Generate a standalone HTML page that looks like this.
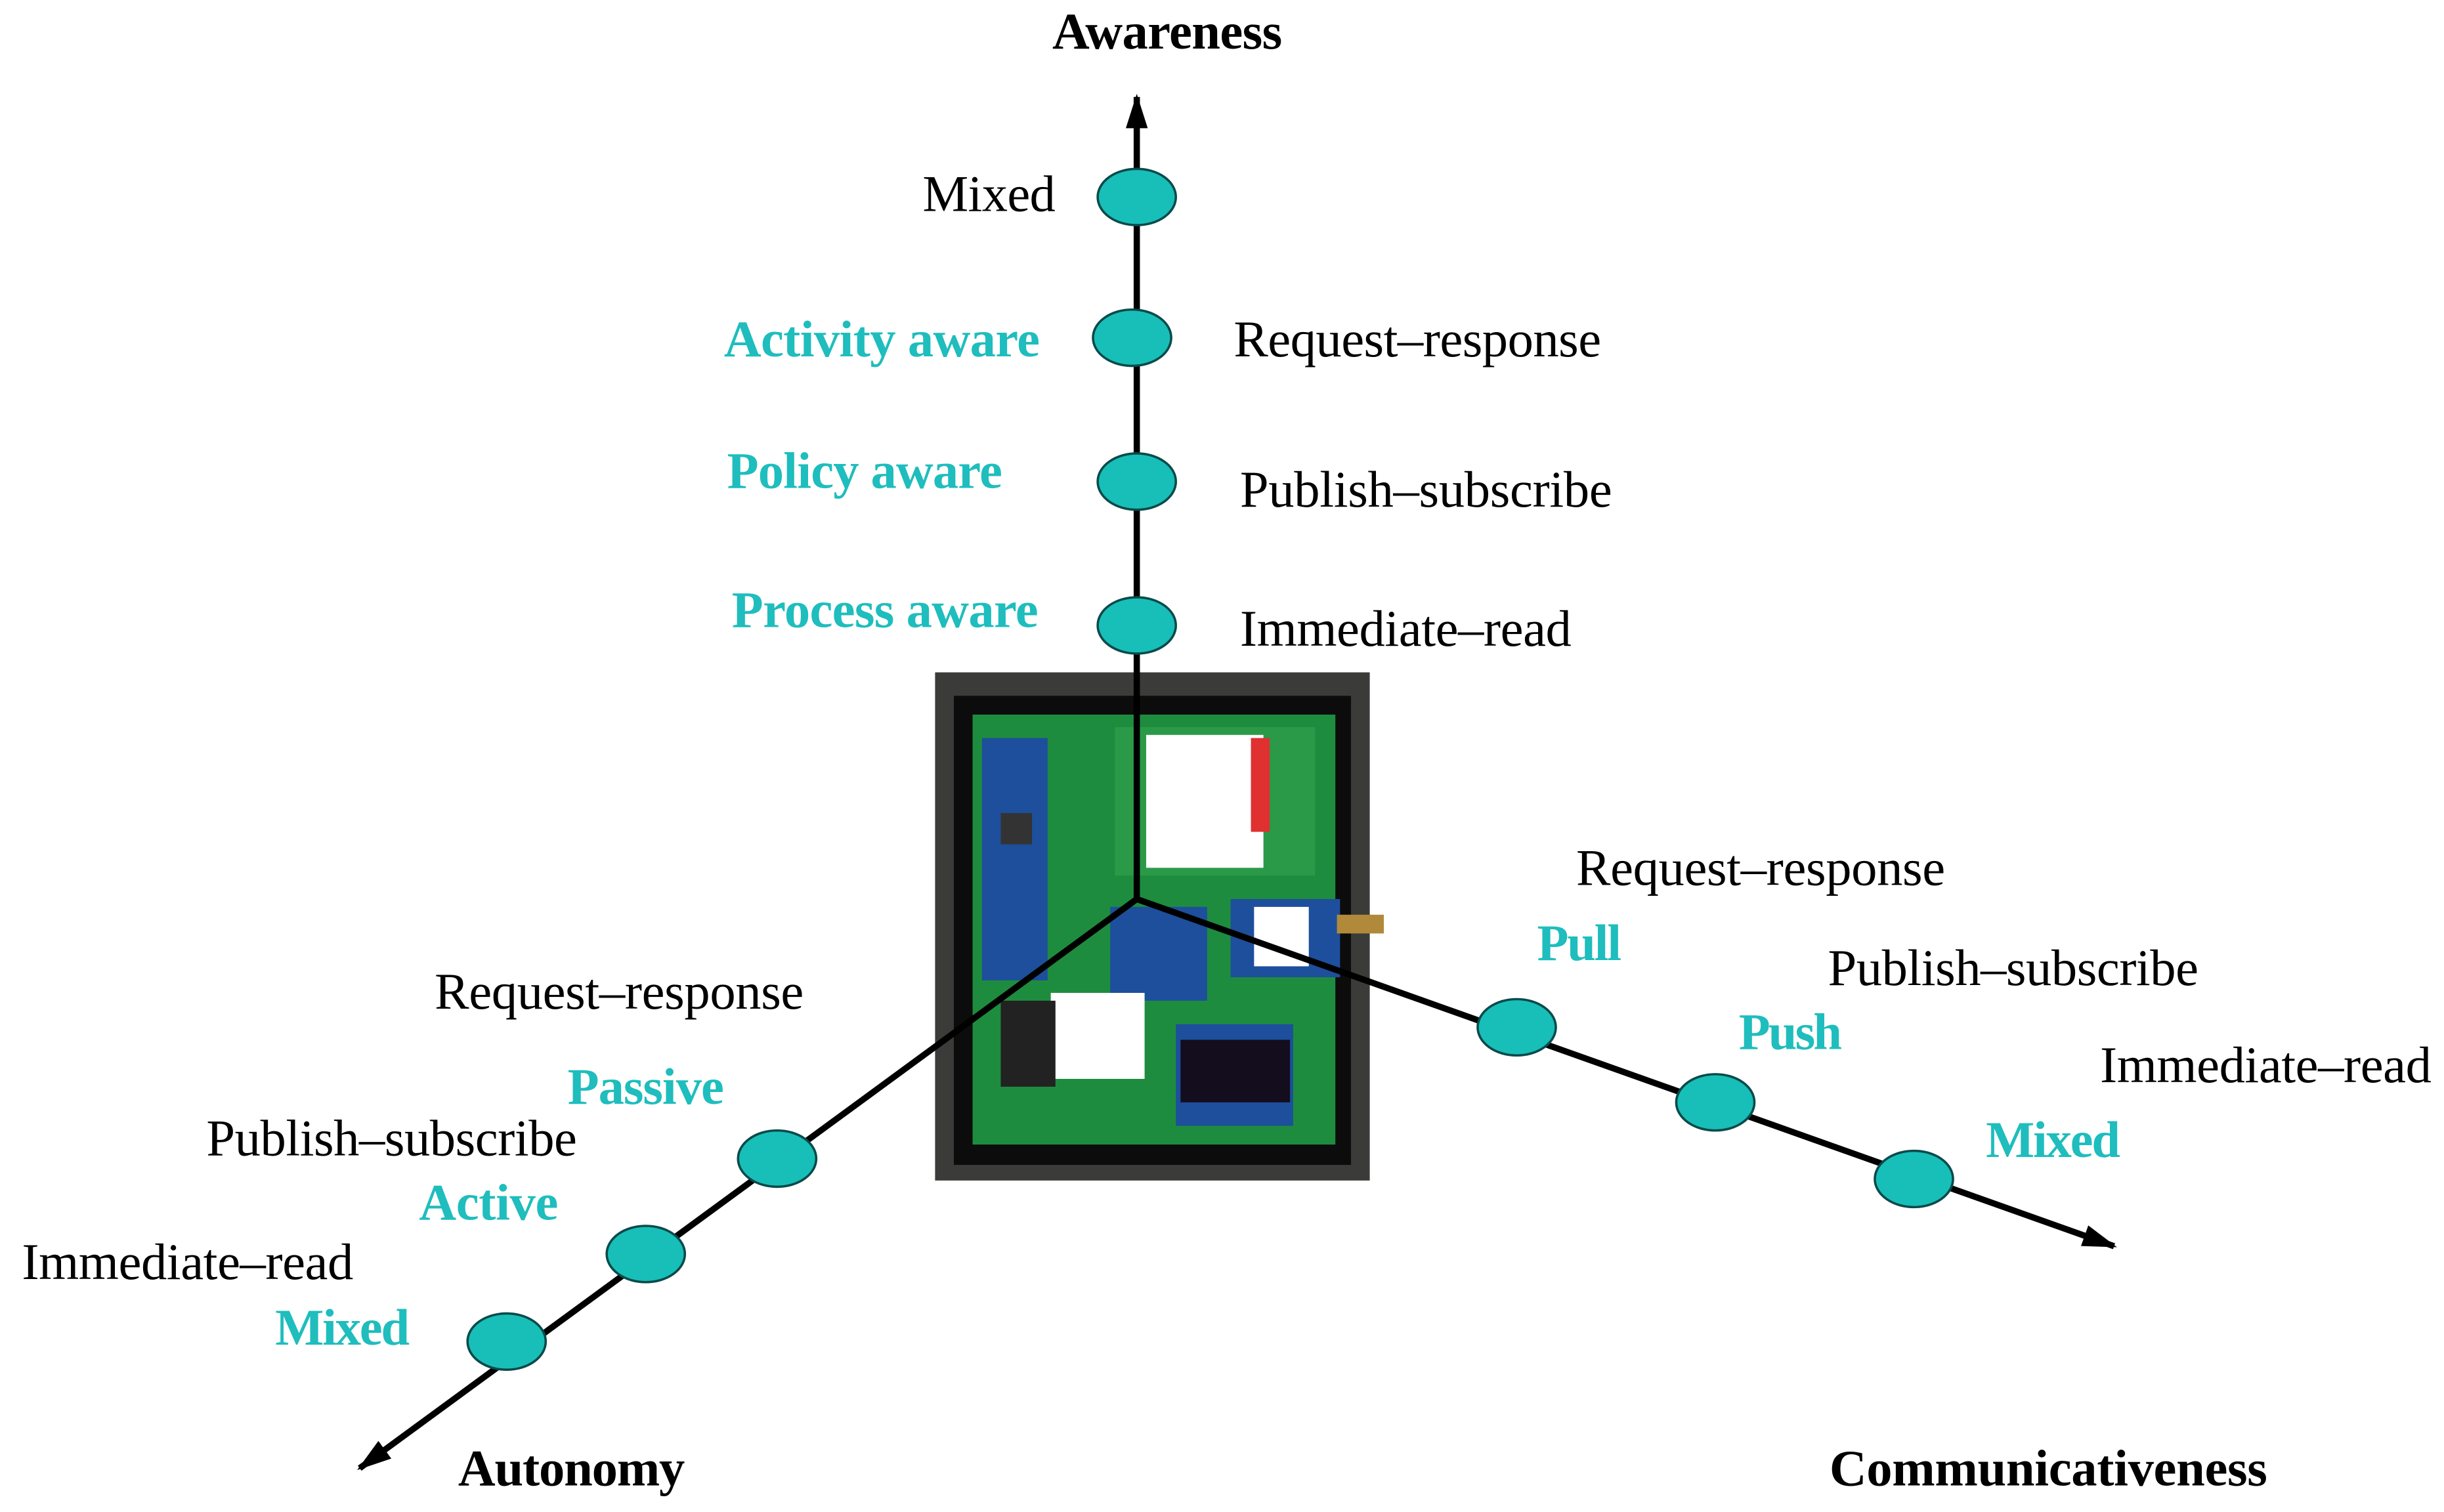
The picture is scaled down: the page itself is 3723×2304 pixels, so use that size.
<!DOCTYPE html>
<html><head><meta charset="utf-8"><style>
html,body{margin:0;padding:0;background:#fff;width:3723px;height:2304px;overflow:hidden}
svg{display:block}
text{font-family:"Liberation Serif",serif;font-size:33px}
.c{fill:#1fbdbd;font-weight:bold}
.b{font-weight:bold;fill:#000}
</style></head><body>
<svg width="3723" height="2304" viewBox="0 0 1563 967" preserveAspectRatio="none">
<defs>
<marker id="ah2" markerWidth="22" markerHeight="14" refX="20" refY="7" orient="auto" markerUnits="userSpaceOnUse"><path d="M0,0 L22,7 L0,14 z" fill="#000"/></marker></defs>
<rect x="598" y="430" width="278" height="325" fill="#3b3b39"/>
<rect x="610" y="445" width="254" height="300" fill="#0c0c0c"/>
<rect x="622" y="457" width="232" height="275" fill="#1e8c3e"/>
<rect x="628" y="472" width="42" height="155" fill="#1d4f9c"/>
<rect x="640" y="520" width="20" height="20" fill="#333"/>
<rect x="713" y="465" width="128" height="95" fill="#2a9a48"/>
<rect x="733" y="470" width="75" height="85" fill="#fff"/>
<rect x="800" y="472" width="12" height="60" fill="#e03030"/>
<rect x="710" y="580" width="62" height="60" fill="#1d4f9c"/>
<rect x="787" y="575" width="70" height="50" fill="#1d4f9c"/>
<rect x="802" y="580" width="35" height="38" fill="#fff"/>
<rect x="855" y="585" width="30" height="12" fill="#b08a3a"/>
<rect x="672" y="635" width="60" height="55" fill="#fff"/>
<rect x="640" y="640" width="35" height="55" fill="#222"/>
<rect x="752" y="655" width="75" height="65" fill="#1d4f9c"/>
<rect x="755" y="665" width="70" height="40" fill="#140d1e"/>
<line x1="727" y1="575" x2="727" y2="62" stroke="#000" stroke-width="4" marker-end="url(#ah2)"/>
<line x1="727" y1="575" x2="1352" y2="797" stroke="#000" stroke-width="4" marker-end="url(#ah2)"/>
<line x1="727" y1="575" x2="230" y2="939" stroke="#000" stroke-width="4" marker-end="url(#ah2)"/>
<g fill="#17bfb8" stroke="#0b4a4a" stroke-width="1.5">
<ellipse cx="727" cy="126" rx="25" ry="18"/><ellipse cx="724" cy="216" rx="25" ry="18"/>
<ellipse cx="727" cy="308" rx="25" ry="18"/><ellipse cx="727" cy="400" rx="25" ry="18"/>
<ellipse cx="970" cy="657" rx="25" ry="18"/><ellipse cx="1097" cy="705" rx="25" ry="18"/><ellipse cx="1224" cy="754" rx="25" ry="18"/>
<ellipse cx="497" cy="741" rx="25" ry="18"/><ellipse cx="413" cy="802" rx="25" ry="18"/><ellipse cx="324" cy="858" rx="25" ry="18"/>
</g>
<text class="b" x="673" y="31" textLength="147" font-size="29">Awareness</text>
<text x="590" y="135" textLength="85">Mixed</text>
<text class="c" x="463" y="228" textLength="202">Activity aware</text>
<text x="789" y="228" textLength="235">Request–response</text>
<text class="c" x="465" y="312" textLength="176">Policy aware</text>
<text x="793" y="324" textLength="238">Publish–subscribe</text>
<text class="c" x="468" y="401" textLength="196">Process aware</text>
<text x="793" y="413" textLength="212">Immediate–read</text>
<text x="1008" y="566" textLength="236">Request–response</text>
<text class="c" x="983" y="614" textLength="54">Pull</text>
<text x="1169" y="630" textLength="237">Publish–subscribe</text>
<text class="c" x="1112" y="671" textLength="66">Push</text>
<text x="1343" y="692" textLength="212">Immediate–read</text>
<text class="c" x="1270" y="740" textLength="86">Mixed</text>
<text x="278" y="645" textLength="236">Request–response</text>
<text class="c" x="363" y="706" textLength="100">Passive</text>
<text x="132" y="739" textLength="237">Publish–subscribe</text>
<text class="c" x="268" y="780" textLength="89">Active</text>
<text x="14" y="818" textLength="212">Immediate–read</text>
<text class="c" x="176" y="860" textLength="86">Mixed</text>
<text class="b" x="293" y="950" textLength="145" font-size="31">Autonomy</text>
<text class="b" x="1170" y="950" textLength="280" font-size="31">Communicativeness</text>
</svg>
</body></html>
